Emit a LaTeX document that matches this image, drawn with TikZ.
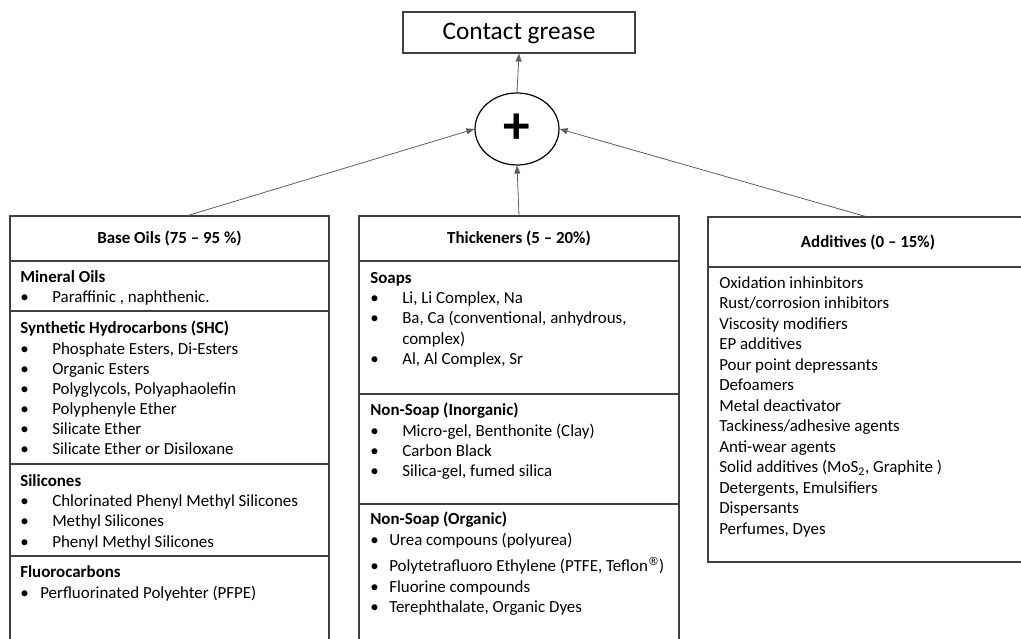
\documentclass[tikz,border=0pt]{standalone}
\usepackage{fontspec}
\setmainfont{Carlito}
\newfontfamily\symfont{DejaVu Sans}
\usetikzlibrary{arrows.meta, positioning, shapes.geometric}
\definecolor{myline}{RGB}{64, 64, 64}
\definecolor{myarrow}{RGB}{95, 95, 95}

\tikzset{
    boxline/.style={draw=myline, line width=0.9pt},
    colhead/.style={boxline, minimum width=240pt, minimum height=33.75pt, inner sep=0pt, font=\fontsize{12.7}{15}\selectfont\bfseries},
    itemtxt/.style={anchor=mid west, inner sep=0pt, yshift=-1.5pt, font=\fontsize{12.7}{15}\selectfont},
    grouptxt/.style={itemtxt, font=\fontsize{12.7}{15}\selectfont\bfseries},
    joinarrow/.style={draw=myarrow, line width=0.6pt, -{Triangle[length=6pt, width=4.5pt]}}
}

\begin{document}
\begin{tikzpicture}[x=0.75pt, y=-0.75pt]
        \useasboundingbox (0,0) rectangle (1021,639);
        \clip (0,0) rectangle (1021,639);

        % result and mixing
        \node[boxline, minimum width=174pt, minimum height=30.75pt, text height=13pt, text depth=2pt, font=\fontsize{19}{22}\selectfont] (grease) at (519,32.5) {Contact grease};
        \node[boxline, draw=black, ellipse, minimum width=63pt, minimum height=54pt, inner sep=0pt, font=\fontsize{40}{40}\selectfont\bfseries] (sum) at (517,129) {+};

        % column heads
        \node[colhead, minimum width=239.25pt] (oilshead) at (169.5,238.5) {Base Oils (75 -- 95 \%)};
        \node[colhead] (thickhead) at (519,238.5) {Thickeners (5 -- 20\%)};
        \node[colhead, minimum height=37.5pt] (addhead) at (868,242) {Additives (0 -- 15\%)};

        % column bodies
        \draw[boxline] (10,261) -- (10,660) (329,261) -- (329,660);
        \draw[boxline] (10,311) -- (329,311) (10,464) -- (329,464) (10,556) -- (329,556);
        \draw[boxline] (359,261) -- (359,660) (679,261) -- (679,660);
        \draw[boxline] (359,394) -- (679,394) (359,504) -- (679,504);
        \draw[boxline] (708,267) -- (708,562) -- (1028,562) -- (1028,267);

        % connectors
        \draw[joinarrow] (sum.north) -- (grease.south);
        \draw[joinarrow] ([xshift=14pt]oilshead.north) -- (sum.west);
        \draw[joinarrow] (thickhead.north) -- (sum.south);
        \draw[joinarrow] ([xshift=-2pt]addhead.north) -- (sum.east);

        % base oils
        \node[grouptxt] (mineral) at (20,277) {Mineral Oils};
        \node[grouptxt] (shc) at (20,328) {Synthetic Hydrocarbons (SHC)};
        \node[grouptxt] (silicones) at (20,481) {Silicones};
        \node[grouptxt] (fluoro) at (20,572) {Fluorocarbons};
        \foreach \y/\txt in {297/{Paraffinic , naphthenic.}, 349/{Phosphate Esters, Di-Esters}, 369/{Organic Esters}, 389/{Polyglycols, Polyaphaolefin}, 409/{Polyphenyle Ether}, 429/{Silicate Ether}, 449/{Silicate Ether or Disiloxane}, 501/{Chlorinated Phenyl Methyl Silicones}, 521/{Methyl Silicones}, 542/{Phenyl Methyl Silicones}}
        {
            \node[itemtxt] (oilb-\y) at (20,\y) {\textbullet};
            \node[itemtxt] (oil-\y) at (52,\y) {\txt};
        }
        \node[itemtxt] (oilb-593) at (20,593) {\textbullet};
        \node[itemtxt] (oil-593) at (40,593) {Perfluorinated Polyehter (PFPE)};

        % thickeners
        \node[grouptxt] (soaps) at (370,278) {Soaps};
        \node[grouptxt] (inorg) at (370,410) {Non-Soap (Inorganic)};
        \node[grouptxt] (org) at (370,519) {Non-Soap (Organic)};
        \foreach \y/\txt in {298/{Li, Li Complex, Na}, 318/{Ba, Ca (conventional, anhydrous,}, 359/{Al, Al Complex, Sr}, 431/{Micro-gel, Benthonite (Clay)}, 451/{Carbon Black}, 471/{Silica-gel, fumed silica}}
        {
            \node[itemtxt] (thickb-\y) at (370,\y) {\textbullet};
            \node[itemtxt] (thick-\y) at (402,\y) {\txt};
        }
        \node[itemtxt] (thick-339) at (402,339) {complex)};
        \foreach \y/\txt in {540/{Urea compouns (polyurea)}, 566/{Polytetrafluoro Ethylene (PTFE, Teflon\raisebox{0.7ex}{\symfont\fontsize{8.5}{8.5}\selectfont ®})}, 587/{Fluorine compounds}, 607/{Terephthalate, Organic Dyes}}
        {
            \node[itemtxt] (thickb-\y) at (370,\y) {\textbullet};
            \node[itemtxt] (thick-\y) at (389,\y) {\txt};
        }

        % additives
        \foreach \txt [count=\i] in {Oxidation inhinbitors, Rust/corrosion inhibitors, Viscosity modifiers, EP additives, Pour point depressants, Defoamers, Metal deactivator, Tackiness/adhesive agents, Anti-wear agents, {Solid additives (MoS\textsubscript{2}, Graphite )}, {Detergents, Emulsifiers}, Dispersants, {Perfumes, Dyes}}
        {
            \node[itemtxt] (add-\i) at (719,{262.5+20.5*\i}) {\txt};
        }
    \end{tikzpicture}
\end{document}
